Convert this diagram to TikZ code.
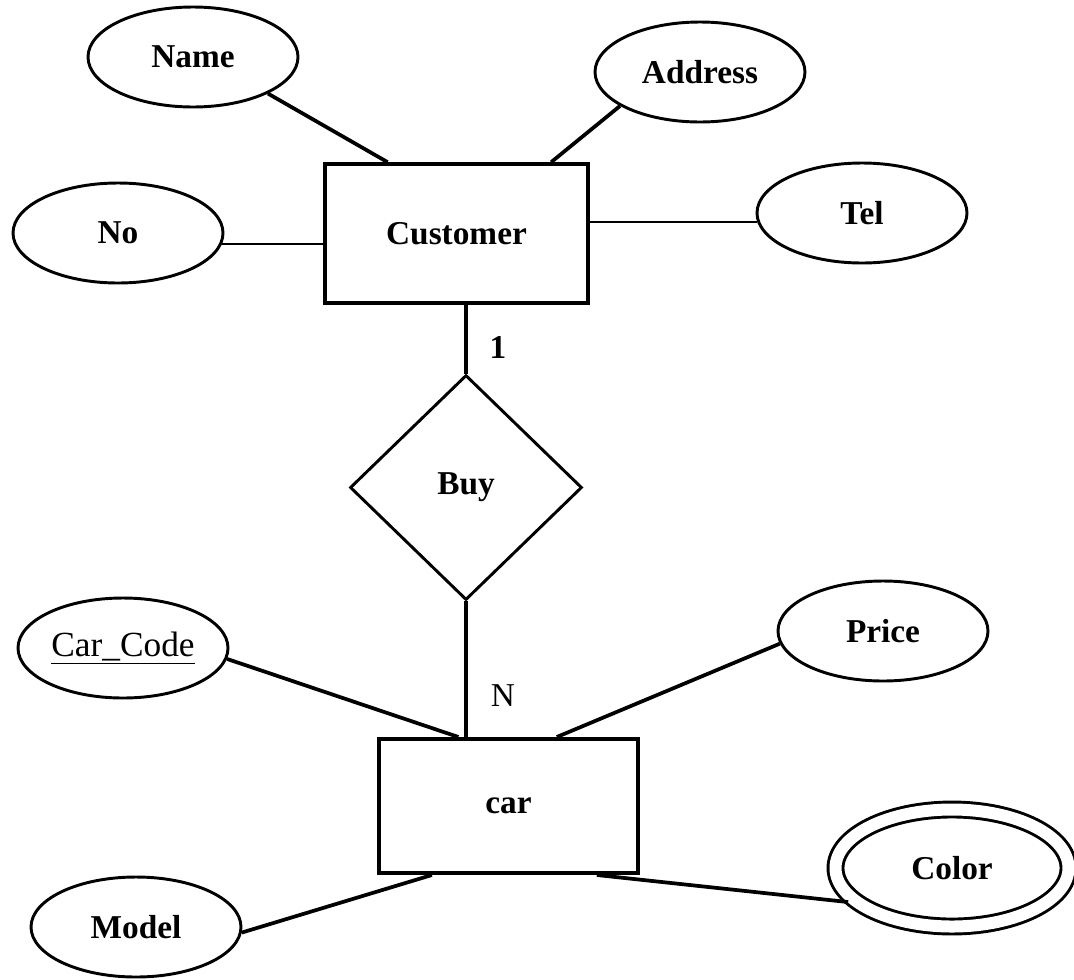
\documentclass[tikz,border=0pt]{standalone}
\usepackage{fontspec}
\setmainfont{Liberation Serif}
\usepackage{tikz}
\usetikzlibrary{shapes.geometric}
\newcommand{\erfont}{\fontsize{25}{30}\selectfont}

\begin{document}
\begin{tikzpicture}[x=0.75pt,y=0.75pt,yscale=-1,xscale=1,
  attr/.style={draw, ellipse, line width=2.2pt, minimum width=157.5pt, minimum height=75pt, inner sep=0pt, font=\erfont\bfseries},
  entity/.style={draw, rectangle, line width=3pt, inner sep=0pt, font=\erfont\bfseries},
  rel/.style={draw, diamond, line width=2.2pt, minimum width=174pt, minimum height=168.75pt, inner sep=0pt, font=\erfont\bfseries},
  conn/.style={line width=2.8pt},
  thinconn/.style={line width=1.6pt},
  card/.style={inner sep=0.75pt, font=\erfont}]
\useasboundingbox (0,0) rectangle (1074,979);

%Shape: Rectangle
\node[entity, minimum width=197pt, minimum height=104pt] (cust) at (456.5,233.5) {Customer};
%Shape: Diamond
\node[rel] (buy) at (466,487.5) {Buy};
%Shape: Rectangle
\node[entity, minimum width=194pt, minimum height=100.5pt] (car) at (508.5,806) {car};

%Shape: Ellipse
\node[attr] (name) at (193,57) {Name};
%Shape: Ellipse
\node[attr] (no) at (118,233) {No};
%Shape: Ellipse
\node[attr] (addr) at (700,72) {Address};
%Shape: Ellipse
\node[attr] (tel) at (862,213) {Tel};
%Shape: Ellipse
\node[attr, font=\fontsize{26.5}{30}\selectfont] (code) at (123,648) {\underline{Car\_Code}};
%Shape: Ellipse
\node[attr] (price) at (883,631) {Price};
%Shape: Ellipse
\node[attr] (model) at (136,927) {Model};
%Shape: Ellipse (double)
\node[attr, double, double distance=9pt, minimum width=174.75pt, minimum height=87.75pt] (color) at (952,868) {Color};

%Straight Lines
\draw[conn] (name.-26) -- (cust.134);
\draw[conn] (addr.203) -- (cust.37);
\draw[thinconn] (no.-6) -- (no.-6 -| cust.west);
\draw[thinconn] (cust.east |- tel.185) -- (tel.185);
\draw[conn] (cust.south -| buy.north) -- (buy.north);
\draw[conn] (buy.south) -- (buy.south |- car.north);
\draw[conn] (code.-6) -- (car.126);
\draw[conn] (price.187) -- (car.55);
\draw[conn] (model.-3) -- (car.222);
\draw[conn, shorten >=6pt] (car.322) -- (color.200);

% Text Node
\node[card, font=\erfont\bfseries] (one) at (498,347) {1};
% Text Node
\node[card] (many) at (503,696) {N};

\end{tikzpicture}
\end{document}
